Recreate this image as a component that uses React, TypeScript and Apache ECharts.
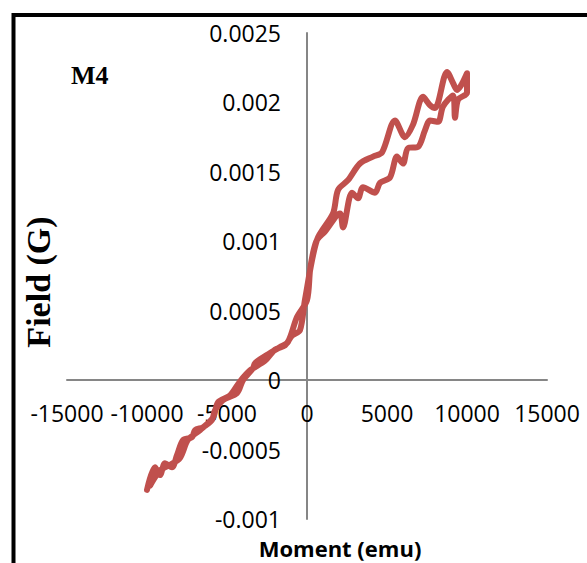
import React, { useEffect, useRef } from "react";
import * as echarts from "echarts";

// Ascending branch (Moment, Field)
const upMoment = [-10000, -9500, -9190, -8875, -8440, -8125, -7750, -7190, -7000, -6500, -5940, -5750, -5250, -4375, -4000, -3375, -3250, -2310, -1690, -1190, -625, 0, 190, 375, 625, 1125, 2060, 2250, 2810, 3190, 3500, 4250, 4560, 5190, 5625, 6000, 6310, 6940, 7375, 7690, 8190, 8500, 9125, 9250, 9440, 10000];
const upField = [-0.00079, -0.000627, -0.000684, -0.000598, -0.000627, -0.00054, -0.000432, -0.000411, -0.00036, -0.000339, -0.000288, -0.000216, -0.000144, -0.000094, 0, 0.000086, 0.000122, 0.000195, 0.000238, 0.000274, 0.000454, 0.000576, 0.00079, 0.000915, 0.00101, 0.00107, 0.0012, 0.0011, 0.00135, 0.00131, 0.00139, 0.00135, 0.00142, 0.00146, 0.00161, 0.00156, 0.00167, 0.00168, 0.0018, 0.00187, 0.00186, 0.00197, 0.00205, 0.00189, 0.00202, 0.00207];

// Descending branch
const downMoment = [10000, 9375, 9125, 8750, 8000, 7690, 7250, 6625, 6125, 5500, 4690, 4125, 3310, 2560, 1940, 1625, 625, -125, -440, -940, -1375, -2000, -2625, -3560, -4190, -4810, -5560, -5875, -6690, -7440, -7940, -8560, -9190, -9810];
const downField = [0.00221, 0.00209, 0.00214, 0.00222, 0.00196, 0.00198, 0.00204, 0.00184, 0.00175, 0.00187, 0.00164, 0.00161, 0.00156, 0.00144, 0.00137, 0.0012, 0.00101, 0.00058, 0.00036, 0.00032, 0.00025, 0.00022, 0.00014, 0.00007, -0.00001, -0.00011, -0.00016, -0.00027, -0.00036, -0.00043, -0.00056, -0.00061, -0.00065, -0.00076];

const xMin = -15000;
const xMax = 15000;
const xStep = 5000;
const yMin = -0.001;
const yMax = 0.0025;
const yStep = 0.0005;

const title = "M4";
const xTitle = "Moment (emu)";
const yTitle = "Field (G)";

export default function App() {
  const ref = useRef<HTMLDivElement>(null);
  useEffect(() => {
    if (!ref.current) return;
    const chart = echarts.init(ref.current, undefined, { renderer: "svg" });
    const data: number[][] = [];
    upMoment.forEach((m, i) => data.push([m, upField[i]]));
    downMoment.forEach((m, i) => data.push([m, downField[i]]));
    chart.setOption({
      animation: false,
      backgroundColor: "#ffffff",
      grid: { left: 67, right: 40, top: 33, bottom: 44, outerBoundsMode: "none", containLabel: false },
      xAxis: {
        type: "value",
        position: "bottom",
        offset: -139,
        min: xMin,
        max: xMax,
        interval: xStep,
        axisLine: { onZero: false, lineStyle: { color: "#868686", width: 2 } },
        axisTick: { show: false },
        splitLine: { show: false },
        axisLabel: {
          color: "#000",
          fontFamily: "Open Sans",
          fontSize: 23,
          margin: 21,
          showMinLabel: true,
          showMaxLabel: true,
          formatter: (v: number) => String(v),
        },
      },
      yAxis: {
        type: "value",
        position: "left",
        offset: -240,
        min: yMin,
        max: yMax,
        interval: yStep,
        axisLine: { onZero: false, lineStyle: { color: "#868686", width: 2 } },
        axisTick: { show: false },
        splitLine: { show: false },
        axisLabel: {
          color: "#000",
          fontFamily: "Open Sans",
          fontSize: 23,
          margin: 26,
          showMinLabel: true,
          showMaxLabel: true,
          formatter: (v: number) => String(+v.toFixed(4)),
        },
      },
      series: [
        {
          type: "line",
          data,
          showSymbol: false,
          smooth: 0.3,
          lineStyle: { color: "#C0504D", width: 6, cap: "round", join: "round" },
        },
      ],
      graphic: [
        {
          type: "rect",
          shape: { x: 13.5, y: 15, width: 700, height: 700 },
          style: { fill: "none", stroke: "#000", lineWidth: 4 },
          silent: true,
        },
        {
          type: "text",
          left: 71,
          top: 62,
          style: { text: title, font: "bold 26px 'Liberation Serif', 'Times New Roman', serif", fill: "#000" },
        },
        {
          type: "text",
          x: 38,
          y: 282,
          rotation: Math.PI / 2,
          style: {
            text: yTitle,
            font: "bold 34px 'Liberation Serif', 'Times New Roman', serif",
            fill: "#000",
            align: "center",
            verticalAlign: "middle",
          },
        },
        {
          type: "text",
          x: 340,
          y: 548,
          style: {
            text: xTitle,
            font: "bold 22px 'Open Sans', sans-serif",
            fill: "#000",
            align: "center",
            verticalAlign: "middle",
          },
        },
      ],
    });
    return () => chart.dispose();
  }, []);
  return (
    <div
      ref={ref}
      style={{ position: "fixed", left: 0, top: 0, width: 587, height: 563 }}
    />
  );
}
